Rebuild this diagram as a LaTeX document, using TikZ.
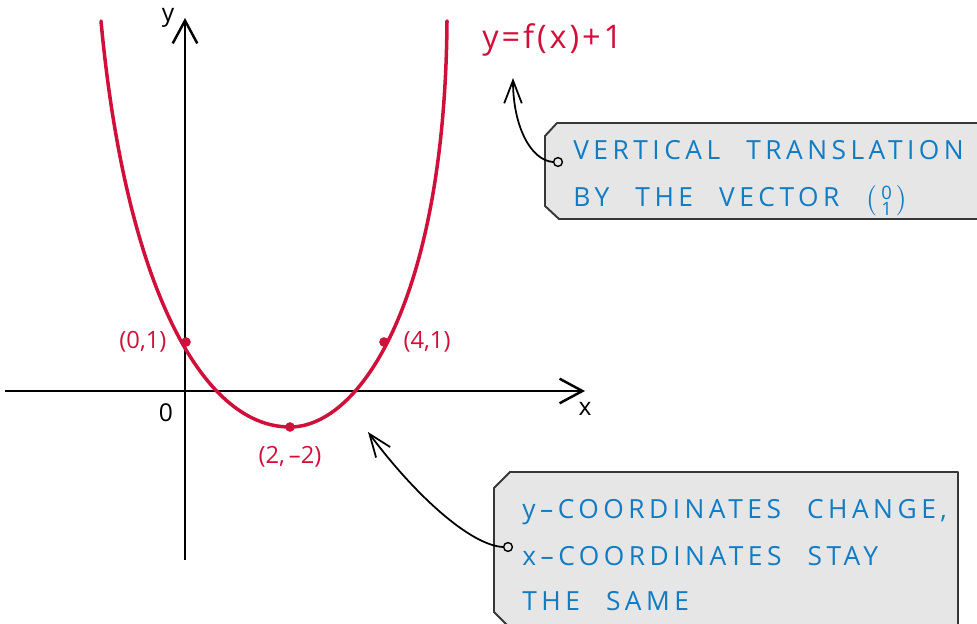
\documentclass[tikz,border=0pt]{standalone}
\usepackage{amsmath}
\usepackage{fontspec}
\setmainfont{Open Sans}
\newfontfamily\notefont[LetterSpace=17, WordSpace=2.3]{Open Sans}
\newfontfamily\eqfont[LetterSpace=9]{Open Sans}
\usetikzlibrary{arrows.meta, positioning, calc}
\definecolor{cCurve}{RGB}{208,16,58}
\definecolor{cNote}{RGB}{16,124,196}
\definecolor{cBoxFill}{RGB}{230,230,230}
\definecolor{cBoxLine}{RGB}{55,55,55}
\tikzset{
	axis/.style     ={line width=1.4pt, -{Straight Barb[length=13pt, width=14pt]}},
	axlabel/.style  ={font=\fontsize{14}{16}\selectfont, inner sep=0pt},
	graph/.style    ={line width=2pt, draw=cCurve, line cap=round},
	pt/.style       ={circle, fill=cCurve, minimum size=5.5pt, inner sep=0pt},
	ptlabel/.style  ={text=cCurve, font=\fontsize{13.5}{16}\selectfont, inner sep=0pt},
	notebox/.style  ={draw=cBoxLine, fill=cBoxFill, line width=1.1pt, line join=round},
	notetext/.style ={text=cNote, font=\notefont\fontsize{15}{17}\selectfont, anchor=base west, inner sep=0pt},
	pin/.style      ={circle, draw=black, fill=cBoxFill, line width=0.8pt, minimum size=5pt, inner sep=0pt},
	callout/.style  ={line width=1pt, -{Straight Barb[length=13pt, width=10pt]}},
}
\begin{document}
\begin{tikzpicture}[x=0.02cm, y=-0.02cm]
	\useasboundingbox (0,0) rectangle (977,624);
	\clip (0,0) rectangle (977,624);
	% axes
	\coordinate (o) at (185,391);
	\coordinate (xl) at (5,391);
	\coordinate (xr) at (585,391);
	\coordinate (yb) at (185,560);
	\coordinate (yt) at (185,18);
	\draw[axis] (xl) -- (xr);
	\draw[axis] (yb) -- (yt);
	\node[axlabel] (xlab) at (585,409) {x};
	\node[axlabel] (ylab) at (168,18) {y};
	\node[axlabel] (olab) at (166,413) {0};
	% translated graph
	\coordinate (gl) at (101,21);
	\coordinate (gr) at (447,21);
	\draw[graph] (gl) .. controls (125,280) and (200,427) .. (290,427)
	                  .. controls (360,427) and (445,300) .. (gr);
	\node[pt] (p01) at (186,342) {};
	\node[pt] (p41) at (384,342) {};
	\node[pt] (p22) at (290,427) {};
	\node[ptlabel, left=8pt of p01] (l01) {(0,1)};
	\node[ptlabel, right=8pt of p41] (l41) {(4,1)};
	\node[ptlabel, below=8pt of p22] (l22) {(2,\,–2)};
	\node[text=cCurve, font=\eqfont\fontsize{18.5}{20}\selectfont, anchor=west, inner sep=0pt] (eq) at (482,40) {y=f(x)+1};
	% upper note
	\draw[notebox] (545,136) -- (557,123) -- (1000,123) -- (1000,219) -- (559,219) -- (545,206) -- cycle;
	\node[notetext] (n1a) at (573,160) {VERTICAL TRANSLATION};
	\node[notetext] (n1b) at (573,207) {BY THE VECTOR \(\left(\begin{smallmatrix}\text{0}\\\text{1}\end{smallmatrix}\right)\)};
	\node[pin] (k1) at (558,162) {};
	\coordinate (t1) at (513,78);
	\draw[callout] (k1.west) .. controls (530,160) and (513,125) .. (t1);
	% lower note
	\draw[notebox] (494,488) -- (510,472) -- (958,472) -- (958,628) -- (510,628) -- (494,612) -- cycle;
	\node[notetext] (n2a) at (522,519) {y–COORDINATES CHANGE,};
	\node[notetext] (n2b) at (522,565) {x–COORDINATES STAY};
	\node[notetext] (n2c) at (522,610) {THE SAME};
	\node[pin] (k2) at (508,547) {};
	\coordinate (t2) at (368,432);
	\draw[callout] (k2.west) .. controls (470,545) and (415,495) .. (t2);
\end{tikzpicture}
\end{document}
